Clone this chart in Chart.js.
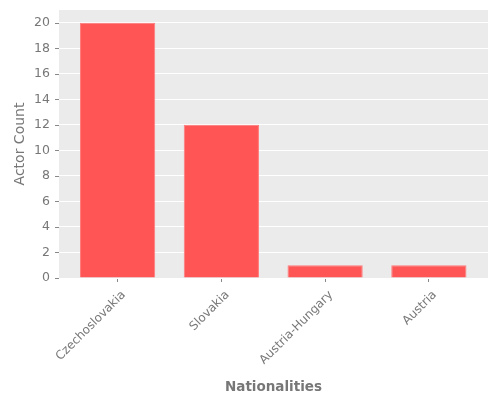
<!DOCTYPE html>
<html>
<head>
<meta charset="utf-8">
<script src="https://cdn.jsdelivr.net/npm/chart.js@4"></script>
<style>
  body { margin: 0; background: #ffffff; }
  #wrap { width: 500px; height: 400px; }
</style>
</head>
<body>
<div id="wrap"><canvas id="myChart"></canvas></div>
<script>
const nationalities = ["Czechoslovakia", "Slovakia", "Austria-Hungary", "Austria"];
const actorCounts = [20, 12, 1, 1];
const yTicks = [0, 2, 4, 6, 8, 10, 12, 14, 16, 18, 20];

const textGray = "#777777";

// grey panel behind the plot, like the ggplot style
const panelBg = {
  id: "panelBg",
  beforeDraw(chart) {
    const a = chart.chartArea;
    const ctx = chart.ctx;
    ctx.save();
    ctx.fillStyle = "#ebebeb";
    ctx.fillRect(a.left, a.top, a.right - a.left, a.bottom - a.top);
    ctx.restore();
  }
};

const points = actorCounts.map((v, i) => ({ x: i, y: v }));

new Chart(document.getElementById("myChart"), {
  type: "bar",
  data: {
    datasets: [{
      data: points,
      backgroundColor: "#ff5555",
      borderColor: "#ff7b7b",
      borderWidth: 1,
      barPercentage: 0.725,
      categoryPercentage: 1.0
    }]
  },
  options: {
    responsive: true,
    maintainAspectRatio: false,
    animation: false,
    layout: { padding: { top: 10, right: 12, bottom: 4, left: 0 } },
    plugins: {
      legend: { display: false },
      tooltip: { enabled: false }
    },
    scales: {
      x: {
        type: "linear",
        offset: false,
        min: -0.565,
        max: 3.57,
        afterBuildTicks(scale) {
          scale.ticks = nationalities.map((n, i) => ({ value: i }));
        },
        afterFit(scale) { scale.height = 118; },
        grid: { offset: false, drawOnChartArea: false, drawTicks: true, tickLength: 4, color: "#888888" },
        border: { display: false },
        ticks: {
          color: textGray,
          font: { family: "DejaVu Sans", size: 12 },
          minRotation: 45,
          maxRotation: 45,
          padding: 6,
          labelOffset: 6,
          callback: (v) => nationalities[v]
        },
        title: {
          display: true,
          text: "Nationalities",
          color: textGray,
          font: { family: "DejaVu Sans", size: 13.5, weight: "bold" },
          padding: { top: 0, bottom: 0 }
        }
      },
      y: {
        min: 0,
        max: 21,
        afterBuildTicks(scale) {
          scale.ticks = yTicks.map(v => ({ value: v }));
        },
        afterFit(scale) {
          scale.width = 59;
          scale.paddingTop = 0;
          scale.paddingBottom = 0;
        },
        grid: { color: "#ffffff", lineWidth: 1, drawTicks: false },
        border: { display: false },
        ticks: {
          color: textGray,
          font: { family: "DejaVu Sans", size: 12.5 },
          padding: 9
        },
        title: {
          display: true,
          text: "Actor Count",
          color: textGray,
          font: { family: "DejaVu Sans", size: 14 },
          padding: { top: 12, bottom: 0 }
        }
      }
    }
  },
  plugins: [panelBg, {
    // small grey tick marks outside the panel on the y axis
    id: "yTickMarks",
    afterDraw(chart) {
      const y = chart.scales.y;
      const ctx = chart.ctx;
      ctx.save();
      ctx.strokeStyle = "#888888";
      ctx.lineWidth = 1;
      yTicks.forEach(v => {
        const py = Math.round(y.getPixelForValue(v)) + 0.5;
        ctx.beginPath();
        ctx.moveTo(chart.chartArea.left - 4, py);
        ctx.lineTo(chart.chartArea.left, py);
        ctx.stroke();
      });
      ctx.restore();
    }
  }]
});
</script>
</body>
</html>
